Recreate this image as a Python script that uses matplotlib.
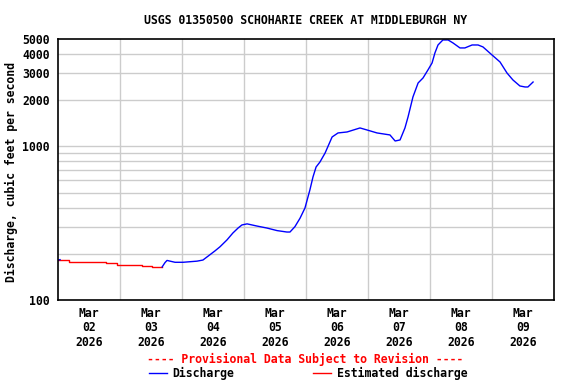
import matplotlib
matplotlib.use("Agg")
import matplotlib.pyplot as plt
from matplotlib.lines import Line2D
from matplotlib.ticker import FixedLocator, NullLocator

# hours since 2026-03-02 00:00
est_hours = [0.0, 4.3, 4.3, 12.4, 12.4, 18.6, 18.6, 22.9, 22.9, 32.5, 32.5, 36.4, 36.4, 40.3]
est_values = [181, 181, 178, 178, 176, 176, 174, 174, 170, 170, 167, 167, 164, 164]

first_hours = [0.0, 0.8]
first_values = [182, 183]

dis_hours = [40.3, 41.4, 42.2, 43.4, 45.3, 48.4, 53.8, 56.1, 58.1, 60.8, 62.7, 65.4,
             67.7, 69.7, 71.2, 73.2, 77.0, 80.9, 84.8, 88.6, 89.8, 91.7, 93.7, 95.6,
             97.5, 98.7, 99.9, 101.4, 103.4, 106.1, 108.4, 111.9, 116.9, 119.6, 123.5,
             128.5, 130.5, 132.4, 134.3, 135.5, 137.4, 139.4, 141.3, 143.2, 144.8,
             145.9, 147.1, 149.0, 151.0, 152.9, 155.6, 157.5, 160.3, 162.6, 164.5,
             168.0, 171.1, 173.8, 176.1, 178.8, 180.8, 181.9, 183.9]
dis_values = [164, 175, 181, 179, 176, 176, 179, 182, 193, 209, 222, 246,
              273, 294, 308, 313, 303, 294, 283, 277, 277, 300, 341, 397,
              520, 632, 734, 791, 906, 1151, 1223, 1241, 1318, 1279, 1223,
              1187, 1084, 1101, 1318, 1555, 2098, 2587, 2788, 3143, 3491,
              4055, 4572, 4930, 4930, 4713, 4373, 4373, 4572, 4572, 4440,
              3936, 3544, 3005, 2706, 2473, 2436, 2436, 2624]

day_labels = ["Mar\n02\n2026", "Mar\n03\n2026", "Mar\n04\n2026", "Mar\n05\n2026",
              "Mar\n06\n2026", "Mar\n07\n2026", "Mar\n08\n2026", "Mar\n09\n2026"]
y_ticks = [100, 1000, 2000, 3000, 4000, 5000]
y_grid = [200, 300, 400, 500, 600, 700, 800, 900, 1000, 2000, 3000, 4000]

FONT = "DejaVu Sans Mono"
FS = 8.3

fig = plt.figure(figsize=(5.76, 3.84), dpi=100)
ax = fig.add_axes([58 / 576, 84 / 384, 496 / 576, 261 / 384])

ax.plot(est_hours, est_values, color="#ff0000", lw=1)
ax.plot(first_hours, first_values, color="#0000ff", lw=1)
ax.plot(dis_hours, dis_values, color="#0000ff", lw=1)

ax.set_yscale("log")
ax.set_ylim(100, 5000)
ax.set_xlim(0, 192)

ax.yaxis.set_major_locator(FixedLocator(y_ticks))
ax.yaxis.set_minor_locator(NullLocator())
ax.set_yticklabels([str(v) for v in y_ticks])
for v in y_grid:
    ax.axhline(v, color="#cccccc", lw=1, zorder=0)

ax.xaxis.set_major_locator(FixedLocator([12 + 24 * i for i in range(8)]))
ax.set_xticklabels(day_labels)
for i in range(1, 8):
    ax.axvline(24 * i, color="#cccccc", lw=1, zorder=0)

ax.tick_params(axis="x", length=0, pad=5)
ax.tick_params(axis="y", length=0, pad=6)
for lab in ax.get_xticklabels() + ax.get_yticklabels():
    lab.set_fontfamily(FONT)
    lab.set_fontweight("bold")
    lab.set_fontsize(FS)
for lab in ax.get_xticklabels():
    lab.set_linespacing(1.15)

for s in ax.spines.values():
    s.set_linewidth(1.2)
    s.set_color("black")

fig.text(11 / 576, 1 - 172 / 384, "Discharge, cubic feet per second", rotation=90,
         ha="center", va="center", fontfamily=FONT, fontweight="bold", fontsize=FS)

fig.text(306 / 576, 1 - 20 / 384, "USGS 01350500 SCHOHARIE CREEK AT MIDDLEBURGH NY",
         ha="center", va="center", fontfamily=FONT, fontweight="bold", fontsize=FS)
fig.text(305 / 576, 1 - 359 / 384, "---- Provisional Data Subject to Revision ----",
         ha="center", va="center", fontfamily=FONT, fontweight="bold", fontsize=FS,
         color="#ff0000")

ly = 1 - 373 / 384
fig.add_artist(Line2D([149 / 576, 167 / 576], [ly, ly], color="#0000ff", lw=1))
fig.text(172 / 576, ly, "Discharge", ha="left", va="center", fontfamily=FONT,
         fontweight="bold", fontsize=FS)
fig.add_artist(Line2D([313 / 576, 331 / 576], [ly, ly], color="#ff0000", lw=1))
fig.text(337 / 576, ly, "Estimated discharge", ha="left", va="center",
         fontfamily=FONT, fontweight="bold", fontsize=FS)

fig.savefig("out.png", dpi=100)
